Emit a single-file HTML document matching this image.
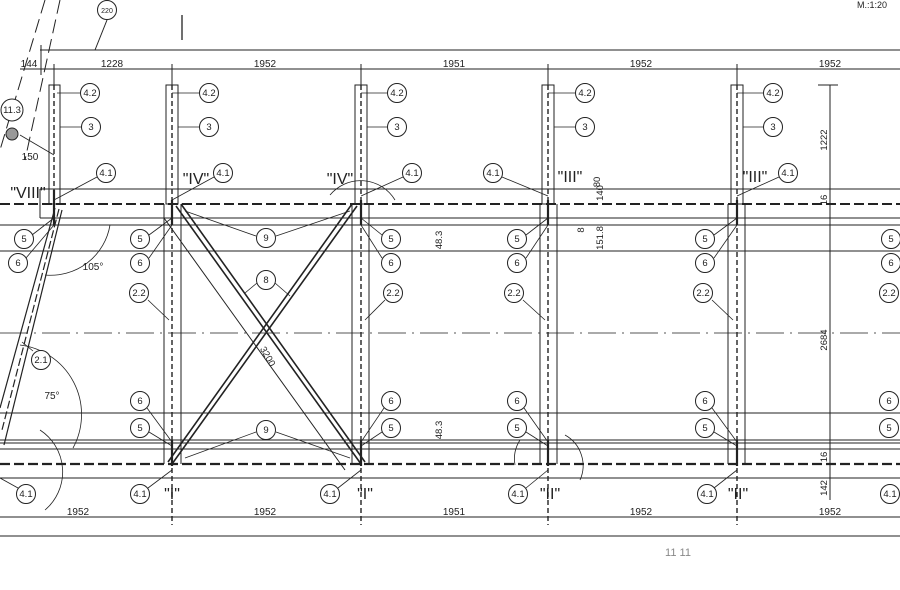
<!DOCTYPE html>
<html><head><meta charset="utf-8"><style>
html,body{margin:0;padding:0;background:#fff;}
svg{display:block;}
text{font-family:"Liberation Sans",sans-serif;fill:#222;}
</style></head><body>
<svg width="900" height="590" viewBox="0 0 900 590" xmlns="http://www.w3.org/2000/svg">
<g stroke="#222" fill="none" stroke-width="1">
<line x1="40" y1="50" x2="900" y2="50"/>
<line x1="20" y1="69" x2="900" y2="69"/>
<line x1="41" y1="45" x2="41" y2="75"/>
<line x1="54" y1="64" x2="54" y2="85"/>
<line x1="172" y1="64" x2="172" y2="85"/>
<line x1="361" y1="64" x2="361" y2="85"/>
<line x1="548" y1="64" x2="548" y2="85"/>
<line x1="737" y1="64" x2="737" y2="85"/>
<line x1="182" y1="15" x2="182" y2="40" stroke-width="1.3"/>
<rect x="49" y="85" width="11" height="119"/>
<rect x="166" y="85" width="12" height="119"/>
<rect x="355" y="85" width="12" height="119"/>
<rect x="542" y="85" width="12" height="119"/>
<rect x="731" y="85" width="12" height="119"/>
<g stroke-dasharray="5,3" stroke-width="1.4">
<line x1="54" y1="85" x2="54" y2="204"/><line x1="172" y1="85" x2="172" y2="204"/>
<line x1="361" y1="85" x2="361" y2="204"/><line x1="548" y1="85" x2="548" y2="204"/>
<line x1="737" y1="85" x2="737" y2="204"/>
</g>
<line x1="40" y1="189" x2="900" y2="189"/>
<line x1="40" y1="189" x2="40" y2="218"/>
<line x1="40" y1="218" x2="900" y2="218"/>
<line x1="0" y1="225" x2="900" y2="225"/>
<line x1="0" y1="251" x2="900" y2="251"/>
<line x1="0" y1="204" x2="900" y2="204" stroke-dasharray="10,4" stroke-width="2"/>
<line x1="0" y1="333" x2="900" y2="333" stroke-dasharray="28,6,2,6" stroke="#555"/>
<line x1="0" y1="413" x2="900" y2="413"/>
<line x1="0" y1="440" x2="900" y2="440"/>
<line x1="0" y1="443" x2="900" y2="443"/>
<line x1="0" y1="449" x2="900" y2="449"/>
<line x1="0" y1="464" x2="900" y2="464" stroke-dasharray="10,4" stroke-width="2.2"/>
<line x1="0" y1="478" x2="900" y2="478"/>
<line x1="0" y1="517" x2="900" y2="517"/>
<line x1="0" y1="536" x2="900" y2="536"/>
<g>
<line x1="164" y1="204" x2="164" y2="464"/><line x1="181" y1="204" x2="181" y2="464"/>
<line x1="352" y1="204" x2="352" y2="464"/><line x1="369" y1="204" x2="369" y2="464"/>
<line x1="540" y1="204" x2="540" y2="464"/><line x1="557" y1="204" x2="557" y2="464"/>
<line x1="728" y1="204" x2="728" y2="464"/><line x1="745" y1="204" x2="745" y2="464"/>
</g>
<g stroke-dasharray="5,3" stroke-width="1.4">
<line x1="172" y1="204" x2="172" y2="525"/><line x1="361" y1="204" x2="361" y2="525"/>
<line x1="548" y1="204" x2="548" y2="525"/><line x1="737" y1="204" x2="737" y2="525"/>
</g>
<g stroke-width="2.2">
<line x1="172" y1="200" x2="172" y2="225"/><line x1="361" y1="200" x2="361" y2="225"/>
<line x1="548" y1="200" x2="548" y2="225"/><line x1="737" y1="200" x2="737" y2="225"/>
<line x1="172" y1="440" x2="172" y2="466"/><line x1="361" y1="440" x2="361" y2="466"/>
<line x1="548" y1="440" x2="548" y2="466"/><line x1="737" y1="440" x2="737" y2="466"/>
<line x1="54" y1="190" x2="54" y2="225"/>
</g>
<g stroke-width="1.6">
<line x1="176" y1="206" x2="361" y2="464"/><line x1="181" y1="204" x2="365" y2="462"/>
<line x1="357" y1="206" x2="172" y2="464"/><line x1="352" y1="204" x2="168" y2="462"/>
</g>
<line x1="164" y1="218" x2="345" y2="470"/>
<g stroke-width="1.2">
<line x1="55" y1="208" x2="0" y2="408"/>
<line x1="62" y1="210" x2="4" y2="445"/>
<line x1="59" y1="209" x2="2" y2="430" stroke-dasharray="8,3"/>
</g>
<line x1="45" y1="0" x2="0" y2="150" stroke-dasharray="14,6"/>
<line x1="60" y1="0" x2="25" y2="160" stroke-dasharray="14,6"/>
<line x1="107" y1="20" x2="95" y2="50"/>
<line x1="830" y1="85" x2="830" y2="500"/>
<line x1="818" y1="85" x2="838" y2="85"/>
<g stroke-width="0.8">
<line x1="57" y1="93" x2="80" y2="93"/><line x1="172" y1="93" x2="199" y2="93"/><line x1="361" y1="93" x2="387" y2="93"/><line x1="548" y1="93" x2="575" y2="93"/><line x1="737" y1="93" x2="763" y2="93"/>
<line x1="60" y1="127" x2="81" y2="127"/><line x1="178" y1="127" x2="199" y2="127"/><line x1="367" y1="127" x2="387" y2="127"/><line x1="554" y1="127" x2="575" y2="127"/><line x1="743" y1="127" x2="763" y2="127"/>
<line x1="54" y1="200" x2="97" y2="177"/><line x1="172" y1="200" x2="214" y2="177"/><line x1="361" y1="196" x2="403" y2="177"/><line x1="548" y1="196" x2="502" y2="177"/><line x1="737" y1="196" x2="779" y2="177"/>
<line x1="172" y1="218" x2="149" y2="235"/><line x1="172" y1="225" x2="149" y2="258"/>
<line x1="361" y1="218" x2="382" y2="235"/><line x1="361" y1="225" x2="382" y2="258"/>
<line x1="548" y1="218" x2="526" y2="235"/><line x1="548" y1="225" x2="526" y2="258"/>
<line x1="737" y1="218" x2="714" y2="235"/><line x1="737" y1="225" x2="714" y2="258"/>
<line x1="54" y1="218" x2="32" y2="235"/><line x1="54" y1="225" x2="26" y2="258"/>
<line x1="185" y1="211" x2="256" y2="236"/><line x1="350" y1="211" x2="276" y2="236"/>
<line x1="185" y1="458" x2="256" y2="432"/><line x1="350" y1="458" x2="276" y2="432"/>
<line x1="245" y1="293" x2="257" y2="283"/><line x1="275" y1="283" x2="290" y2="296"/>
<line x1="148" y1="300" x2="169" y2="320"/><line x1="385" y1="300" x2="365" y2="320"/><line x1="523" y1="300" x2="545" y2="320"/><line x1="712" y1="300" x2="733" y2="320"/>
<line x1="147" y1="408" x2="172" y2="442"/><line x1="149" y1="432" x2="172" y2="446"/>
<line x1="384" y1="408" x2="361" y2="442"/><line x1="382" y1="432" x2="361" y2="446"/>
<line x1="524" y1="408" x2="548" y2="442"/><line x1="526" y1="432" x2="548" y2="446"/>
<line x1="712" y1="408" x2="737" y2="442"/><line x1="714" y1="432" x2="737" y2="446"/>
<line x1="148" y1="488" x2="172" y2="470"/><line x1="338" y1="488" x2="361" y2="470"/><line x1="526" y1="488" x2="548" y2="470"/><line x1="714" y1="488" x2="737" y2="470"/>
<line x1="18" y1="488" x2="0" y2="478"/><line x1="33" y1="351" x2="22" y2="342"/>
<line x1="20" y1="135" x2="54" y2="155"/>
</g>
<g stroke-width="0.8">
<path d="M20 345 A 70 70 0 0 1 73 448"/>
<path d="M45 275 A 60 60 0 0 0 110 225"/>
<path d="M330 195 A 40 40 0 0 1 395 200"/>
<path d="M40 430 A 50 50 0 0 1 45 510"/>
<path d="M520 440 A 35 35 0 0 0 515 465"/>
<path d="M565 435 A 35 35 0 0 1 580 480"/>
</g>
</g>
<g stroke="#222" fill="#fff" stroke-width="1">
<circle cx="90" cy="93" r="9.5"/><circle cx="209" cy="93" r="9.5"/><circle cx="397" cy="93" r="9.5"/><circle cx="585" cy="93" r="9.5"/><circle cx="773" cy="93" r="9.5"/>
<circle cx="91" cy="127" r="9.5"/><circle cx="209" cy="127" r="9.5"/><circle cx="397" cy="127" r="9.5"/><circle cx="585" cy="127" r="9.5"/><circle cx="773" cy="127" r="9.5"/>
<circle cx="106" cy="173" r="9.5"/><circle cx="223" cy="173" r="9.5"/><circle cx="412" cy="173" r="9.5"/><circle cx="493" cy="173" r="9.5"/><circle cx="788" cy="173" r="9.5"/>
<circle cx="24" cy="239" r="9.5"/><circle cx="140" cy="239" r="9.5"/><circle cx="391" cy="239" r="9.5"/><circle cx="517" cy="239" r="9.5"/><circle cx="705" cy="239" r="9.5"/><circle cx="891" cy="239" r="9.5"/>
<circle cx="18" cy="263" r="9.5"/><circle cx="140" cy="263" r="9.5"/><circle cx="391" cy="263" r="9.5"/><circle cx="517" cy="263" r="9.5"/><circle cx="705" cy="263" r="9.5"/><circle cx="891" cy="263" r="9.5"/>
<circle cx="266" cy="238" r="9.5"/><circle cx="266" cy="280" r="9.5"/><circle cx="266" cy="430" r="9.5"/>
<circle cx="139" cy="293" r="9.5"/><circle cx="393" cy="293" r="9.5"/><circle cx="514" cy="293" r="9.5"/><circle cx="703" cy="293" r="9.5"/><circle cx="889" cy="293" r="9.5"/>
<circle cx="41" cy="360" r="9.5"/>
<circle cx="140" cy="401" r="9.5"/><circle cx="391" cy="401" r="9.5"/><circle cx="517" cy="401" r="9.5"/><circle cx="705" cy="401" r="9.5"/><circle cx="889" cy="401" r="9.5"/>
<circle cx="140" cy="428" r="9.5"/><circle cx="391" cy="428" r="9.5"/><circle cx="517" cy="428" r="9.5"/><circle cx="705" cy="428" r="9.5"/><circle cx="889" cy="428" r="9.5"/>
<circle cx="26" cy="494" r="9.5"/><circle cx="140" cy="494" r="9.5"/><circle cx="330" cy="494" r="9.5"/><circle cx="518" cy="494" r="9.5"/><circle cx="707" cy="494" r="9.5"/><circle cx="890" cy="494" r="9.5"/>
<circle cx="12" cy="110" r="11"/><circle cx="107" cy="10" r="9.5"/>
</g>
<circle cx="12" cy="134" r="6" fill="#999" stroke="#222"/>
<g font-size="9.5" text-anchor="middle">
<text x="90" y="96">4.2</text><text x="209" y="96">4.2</text><text x="397" y="96">4.2</text><text x="585" y="96">4.2</text><text x="773" y="96">4.2</text>
<text x="91" y="130">3</text><text x="209" y="130">3</text><text x="397" y="130">3</text><text x="585" y="130">3</text><text x="773" y="130">3</text>
<text x="106" y="176">4.1</text><text x="223" y="176">4.1</text><text x="412" y="176">4.1</text><text x="493" y="176">4.1</text><text x="788" y="176">4.1</text>
<text x="24" y="242">5</text><text x="140" y="242">5</text><text x="391" y="242">5</text><text x="517" y="242">5</text><text x="705" y="242">5</text><text x="891" y="242">5</text>
<text x="18" y="266">6</text><text x="140" y="266">6</text><text x="391" y="266">6</text><text x="517" y="266">6</text><text x="705" y="266">6</text><text x="891" y="266">6</text>
<text x="266" y="241">9</text><text x="266" y="283">8</text><text x="266" y="433">9</text>
<text x="139" y="296">2.2</text><text x="393" y="296">2.2</text><text x="514" y="296">2.2</text><text x="703" y="296">2.2</text><text x="889" y="296">2.2</text>
<text x="41" y="363">2.1</text>
<text x="140" y="404">6</text><text x="391" y="404">6</text><text x="517" y="404">6</text><text x="705" y="404">6</text><text x="889" y="404">6</text>
<text x="140" y="431">5</text><text x="391" y="431">5</text><text x="517" y="431">5</text><text x="705" y="431">5</text><text x="889" y="431">5</text>
<text x="26" y="497">4.1</text><text x="140" y="497">4.1</text><text x="330" y="497">4.1</text><text x="518" y="497">4.1</text><text x="707" y="497">4.1</text><text x="890" y="497">4.1</text>
<text x="12" y="113">11.3</text><text x="107" y="13" font-size="7">220</text>
</g>
<g font-size="10" text-anchor="middle">
<text x="29" y="67">144</text><text x="112" y="67">1228</text><text x="265" y="67">1952</text><text x="454" y="67">1951</text><text x="641" y="67">1952</text><text x="830" y="67">1952</text>
<text x="78" y="515">1952</text><text x="265" y="515">1952</text><text x="454" y="515">1951</text><text x="641" y="515">1952</text><text x="830" y="515">1952</text>
<text x="30" y="160">150</text><text x="93" y="270">105°</text><text x="52" y="399">75°</text>
<text x="872" y="8" font-size="9">M.:1:20</text>
</g>
<g font-size="9.5" text-anchor="middle">
<text transform="translate(827,140) rotate(-90)">1222</text>
<text transform="translate(827,200) rotate(-90)">16</text>
<text transform="translate(827,340) rotate(-90)">2684</text>
<text transform="translate(827,457) rotate(-90)">16</text>
<text transform="translate(827,488) rotate(-90)">142</text>
<text transform="translate(442,240) rotate(-90)">48.3</text>
<text transform="translate(442,430) rotate(-90)">48.3</text>
<text transform="translate(600,182) rotate(-90)">80</text>
<text transform="translate(603,193) rotate(-90)">140</text>
<text transform="translate(584,230) rotate(-90)">8</text>
<text transform="translate(603,238) rotate(-90)">151.8</text>
<text transform="translate(265,358) rotate(60)">3200</text>
</g>
<g font-size="16" text-anchor="middle">
<text x="28" y="198">"VIII"</text><text x="196" y="184">"IV"</text><text x="340" y="184">"IV"</text>
<text x="570" y="182">"III"</text><text x="755" y="182">"III"</text>
<text x="172" y="499">"I"</text><text x="365" y="499">"I"</text><text x="550" y="499">"II"</text><text x="738" y="499">"II"</text>
</g>
<text x="678" y="556" font-size="11" text-anchor="middle" style="fill:#888">11   11</text>
</svg>
</body></html>
